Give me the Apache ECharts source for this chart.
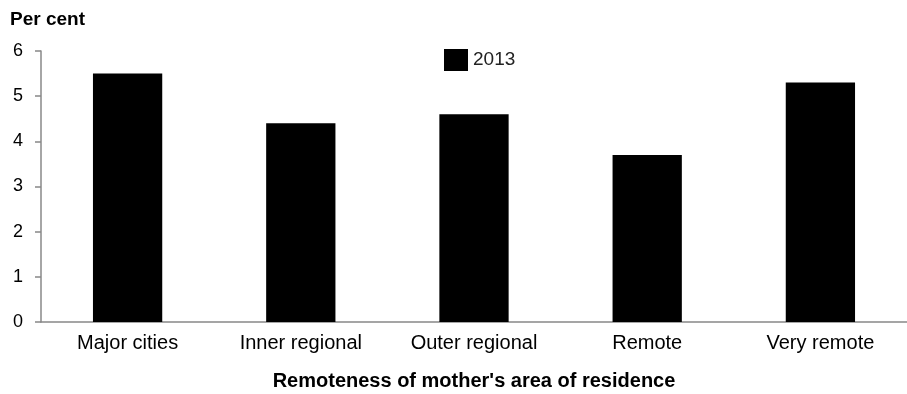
<!DOCTYPE html>
<html>
<head>
<meta charset="utf-8">
<script src="https://cdn.jsdelivr.net/npm/echarts@6/dist/echarts.min.js"></script>
<style>
  html, body { margin: 0; padding: 0; background: #fff; }
  #chart { width: 907px; height: 394px; }
</style>
</head>
<body>
<div id="chart"></div>
<script>
  const categories = ['Major cities', 'Inner regional', 'Outer regional', 'Remote', 'Very remote'];
  const values2013 = [5.5, 4.4, 4.6, 3.7, 5.3];
  const seriesName = '2013';

  const font = 'Liberation Sans, Arial, sans-serif';
  const chart = echarts.init(document.getElementById('chart'), null, { renderer: 'canvas' });

  chart.setOption({
    animation: false,
    backgroundColor: '#fff',
    title: {
      text: 'Per cent',
      left: 5,
      top: 5,
      textStyle: { fontFamily: font, fontSize: 19, fontWeight: 'bold', color: '#000' }
    },
    legend: {
      data: [seriesName],
      left: 439,
      top: 44,
      itemWidth: 24,
      itemHeight: 22,
      itemGap: 8,
      icon: 'rect',
      textStyle: { fontFamily: font, fontSize: 19, color: '#222' }
    },
    grid: { left: 41, right: 0, top: 51, bottom: 72, outerBoundsMode: 'none', containLabel: false },
    xAxis: {
      type: 'category',
      data: categories,
      name: "Remoteness of mother's area of residence",
      nameLocation: 'middle',
      nameGap: 49,
      nameTextStyle: { fontFamily: font, fontSize: 20, fontWeight: 'bold', color: '#000' },
      axisLine: { lineStyle: { color: '#888', width: 1.5 } },
      axisTick: { show: false },
      axisLabel: { fontFamily: font, fontSize: 20, color: '#000', margin: 11 }
    },
    yAxis: {
      type: 'value',
      min: 0,
      max: 6,
      interval: 1,
      splitLine: { show: false },
      axisLine: { show: true, lineStyle: { color: '#888', width: 1.5 } },
      axisTick: { show: true, length: 6, lineStyle: { color: '#888', width: 1.5 } },
      axisLabel: { fontFamily: font, fontSize: 18, color: '#000', margin: 18 }
    },
    series: [{
      name: seriesName,
      type: 'bar',
      data: values2013,
      barWidth: '40%',
      itemStyle: { color: '#000' }
    }]
  });
</script>
</body>
</html>
